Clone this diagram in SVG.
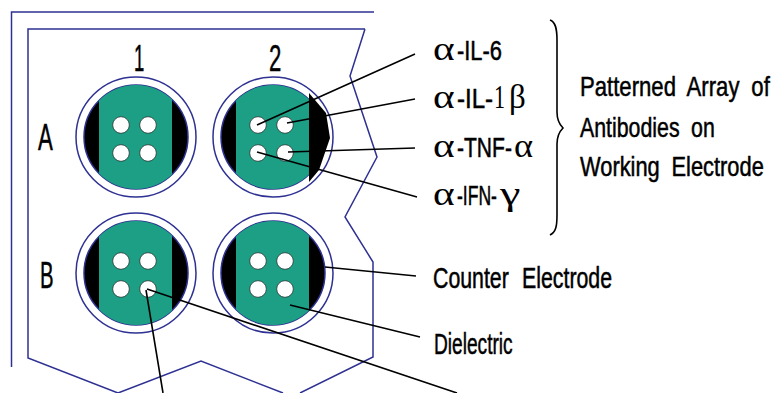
<svg xmlns="http://www.w3.org/2000/svg" width="776" height="393" viewBox="0 0 776 393">
<style>
.o{fill:none;stroke:#2e3192;stroke-width:1.5}
.c{fill:none;stroke:#000;stroke-width:1.6}
.t{font-family:"Liberation Sans",sans-serif;font-size:27px;fill:#000;stroke:#000;stroke-width:.5}
.m{font-size:29px;word-spacing:10px}
.w{word-spacing:7px}
.b{font-size:37px}
.g{font-family:"Liberation Serif",serif;font-size:33px;fill:#000}
.ring{fill:#fff;stroke:#2e3192;stroke-width:1.5}
.in{fill:#000;stroke:#2e3192;stroke-width:1.5}
.gr{fill:#1d9f85}
.h{fill:#fff;stroke:#222;stroke-width:.7}
</style>
<defs>
<clipPath id="cp"><circle cx="0" cy="0" r="52"/></clipPath>
<g id="well">
<circle class="ring" r="60"/>
<circle class="in" r="52"/>
<rect class="gr" x="-37" y="-52" width="73" height="104" clip-path="url(#cp)"/>
<circle class="h" cx="-15" cy="-12" r="8.3"/><circle class="h" cx="12" cy="-12" r="8.3"/>
<circle class="h" cx="-15" cy="16" r="8.3"/><circle class="h" cx="12" cy="16" r="8.3"/>
</g>
</defs>
<path class="o" d="M374 12H11.500V367"/>
<path class="o" d="M365 29H28V358L118 393L201 361L283 393M300 393L373 357V262L345 217L377 157L350 76L365 29"/>
<g id="well-a1" transform="translate(136 137)"><use href="#well"/></g>
<g id="well-a2" transform="translate(273 137)"><use href="#well"/><path d="M36 -44L53 -24L57 1L46 33L36 45Z"/></g>
<g id="well-b1" transform="translate(136 273)"><use href="#well"/></g>
<g id="well-b2" transform="translate(273 273)"><use href="#well"/></g>
<g id="connectors">
<path class="c" d="M257 125L415 54M287 123L415 99M288 152L415 148M257 152L417 197"/>
<path class="c" d="M325 267L416 276M290 305L420 337"/>
<path class="c" d="M146 290L163 393M147 289L457 393"/>
<path class="c" d="M550 20C556 22 557 30 557 40V112C557 120 559 124 563 128C559 132 557 136 557 144V215C557 226 556 232 550 235"/>
</g>
<g id="labels">
<text class="t b" transform="translate(134 71) scale(.5 1)">1</text>
<text class="t b" transform="translate(269 71) scale(.6 1)">2</text>
<text class="t b" transform="translate(38 150) scale(.6 1)">A</text>
<text class="t b" transform="translate(40 288) scale(.55 1)">B</text>
<text class="g" transform="translate(433 60) scale(1.25 1)">α</text>
<text class="t" transform="translate(457 60) scale(.81 1)">-IL-6</text>
<text class="g" transform="translate(433 108) scale(1.25 1)">α</text>
<text class="t" transform="translate(457 108) scale(.89 1)">-IL-</text>
<text class="g" transform="translate(494 108) scale(.67 1)">1</text>
<text class="g" transform="translate(509 108) scale(1 1)">β</text>
<text class="g" transform="translate(433 157) scale(1.25 1)">α</text>
<text class="t" transform="translate(457 157) scale(.78 1)">-TNF-</text>
<text class="g" transform="translate(514 157) scale(1.1 1)">α</text>
<text class="g" transform="translate(433 205) scale(1.25 1)">α</text>
<text class="t" transform="translate(457 205) scale(.65 1)">-IFN-</text>
<text class="g" transform="translate(500 205) scale(1.4 1)">γ</text>
<text class="t w" transform="translate(580 96) scale(.82 1)">Patterned Array of</text>
<text class="t w" transform="translate(580 137) scale(.79 1)">Antibodies on</text>
<text class="t w" transform="translate(580 176) scale(.81 1)">Working Electrode</text>
<text class="t m" transform="translate(433 288) scale(.735 1)">Counter Electrode</text>
<text class="t m" transform="translate(434 354) scale(.66 1)">Dielectric</text>
</g>
</svg>
